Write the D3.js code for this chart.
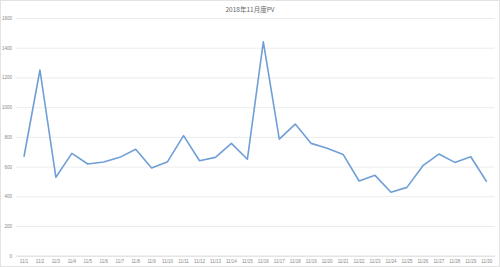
<!DOCTYPE html>
<html><head><meta charset="utf-8">
<script src="https://cdn.jsdelivr.net/npm/d3@7"></script>
<style>body{margin:0;background:#fff}svg{display:block}</style>
</head><body>
<script>
const title = "2018年11月度PV";
const categories = ["11/1","11/2","11/3","11/4","11/5","11/6","11/7","11/8","11/9","11/10","11/11","11/12","11/13","11/14","11/15","11/16","11/17","11/18","11/19","11/20","11/21","11/22","11/23","11/24","11/25","11/26","11/27","11/28","11/29","11/30"];
const pv = [666,1250,528,689,617,631,662,716,590,633,808,639,662,756,649,1440,785,886,756,723,682,503,541,427,460,606,684,628,666,498];
const yTicks = [0,200,400,600,800,1000,1200,1400,1600];

const W = 500, H = 267;
const svg = d3.select("body").append("svg").attr("width", W).attr("height", H);
svg.append("rect").attr("x",0.5).attr("y",0.5).attr("width",W-1).attr("height",H-1)
  .attr("fill","#fff").attr("stroke","#e3e3e3");

const x = d3.scaleBand().domain(categories).range([16, 494.7]);
const y = d3.scaleLinear().domain([0,1600]).range([255.7, 18]);

svg.append("text").attr("x", 250).attr("y", 11.5).attr("text-anchor","middle")
  .attr("font-family","Noto Sans CJK JP, sans-serif").attr("font-size",6.5).attr("fill","#666").text(title);

const yAxis = svg.append("g").attr("transform","translate(16,0)")
  .call(d3.axisLeft(y).tickValues(yTicks).tickFormat(d3.format("d")).tickSize(-(494.7-16)).tickPadding(4));
yAxis.select(".domain").remove();
yAxis.selectAll(".tick line").attr("stroke","#e6e6e6").attr("stroke-width",0.8);
yAxis.selectAll("text").attr("font-family","Liberation Sans, sans-serif").attr("font-size",4.5).attr("fill","#888");

const xAxis = svg.append("g").attr("transform","translate(0,255.7)")
  .call(d3.axisBottom(x).tickSize(0).tickPadding(4));
xAxis.select(".domain").attr("stroke","#d9d9d9").attr("stroke-width",0.8);
xAxis.selectAll("text").attr("font-family","Liberation Sans, sans-serif").attr("font-size",4.5).attr("fill","#888");

const line = d3.line().x((d,i)=>x(categories[i])+x.bandwidth()/2).y(d=>y(d));
svg.append("path").datum(pv).attr("d", line).attr("fill","none")
  .attr("stroke","#6f9fd6").attr("stroke-width",1.6).attr("stroke-linejoin","round");
</script>
</body></html>
